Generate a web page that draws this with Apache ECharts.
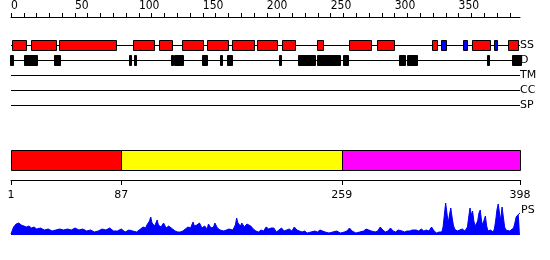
<!DOCTYPE html>
<html>
<head>
<meta charset="utf-8">
<script src="https://cdn.jsdelivr.net/npm/echarts@6/dist/echarts.min.js"></script>
<style>html,body{margin:0;padding:0;background:#fff}#c{width:550px;height:260px}</style>
</head>
<body>
<div id="c"></div>
<script>
// ---- data ----
const seqLength = 398;
const topTickLabels = [0, 50, 100, 150, 200, 250, 300, 350];
const trackNames = ['SS', 'D', 'TM', 'CC', 'SP'];
// secondary structure: [start, end, type] H = helix, E = strand
const ssSegments = [
  [2,12.5,'H'],[16.6,36,'H'],[38.7,82.7,'H'],[96.4,112.8,'H'],[116.7,126.4,'H'],
  [134.2,150.5,'H'],[153.7,170,'H'],[173.2,190.5,'H'],[193.1,208.3,'H'],[212.2,222.5,'H'],
  [239.9,244.6,'H'],[264.9,281.6,'H'],[286.7,299.8,'H'],[329.6,333.1,'H'],[336.6,340.1,'E'],
  [353.8,356.5,'E'],[360.4,374.6,'H'],[378,379.9,'E'],[388.9,396.2,'H']
];
// disorder segments: [start, end]
const disorderSegments = [
  [0.5,2.3],[11.1,21],[34.8,39.2],[93,94.8],[96.6,98.5],[125.8,127.5],[128.5,134.9],
  [150.2,153.7],[164,165.4],[169.7,173.2],[210,211.4],[225,238],[239.5,257.9],
  [259.7,263.6],[303.7,308.5],[310,317.5],[372,374],[392,398.6]
];
const domainStarts = [1, 87, 259];
const domainEnds = [87, 259, 398];
const domainTickLabels = [1, 87, 259, 398];
const psPos = [1,3,5,7,9,11,13,15,17,19,21,24,27,30,33,36,39,42,45,48,51,54,57,60,63,66,69,72,75,78,81,84,87,90,93,96,99,102,104,106,107,109,110,111,113,115,116,118,120,122,124,125,127,129,131,133,135,137,139,141,143,144,146,148,150,152,154,155,157,159,160,162,164,165,167,169,171,172,174,176,177,178,180,181,183,185,186,188,190,192,194,196,198,200,202,204,206,208,210,212,214,216,218,220,222,224,226,228,230,232,235,238,240,242,244,246,249,252,255,258,261,263,265,267,270,273,276,278,280,282,283,285,287,289,291,293,295,297,299,301,303,304,306,308,310,312,314,317,319,321,323,325,327,329,331,333,335,337,338,339,340,341,342,343,344,345,346,347,348,349,351,353,355,356,357,358,359,360,361,362,363,364,365,366,367,368,369,370,371,372,373,375,377,378,379,380,381,382,383,384,385,386,387,388,390,391,393,394,395,396,397,398];
const psVal = [1,8,11,12,10,9,8,9,7,8,6,7,5,6,4,5,6,5,6,5,7,5,6,4,5,3,4,6,5,7,4,4,6,3,5,4,3,6,8,7,10,14,18,12,9,15,10,8,12,7,9,10,6,4,3,3,4,6,8,7,13,9,10,12,7,9,6,11,7,8,12,7,5,6,4,5,6,7,5,10,17,12,9,12,8,11,9,9,6,4,3,5,4,8,6,7,7,3,5,7,4,5,6,4,8,5,4,3,4,2,3,4,3,5,4,3,2,3,4,2,3,4,7,4,2,3,4,6,5,4,5,3,4,8,5,3,4,7,4,3,5,6,4,3,4,4,5,5,4,6,4,5,4,8,4,2,3,3,8,20,32,22,12,20,27,18,10,6,8,4,5,6,4,3,8,18,27,20,24,14,9,8,14,22,25,14,10,15,19,9,4,5,3,6,14,25,31,22,15,28,18,8,5,6,4,6,7,12,18,20,21,22];

// ---- chart ----
const chart = echarts.init(document.getElementById('c'), null, {renderer: 'canvas'});
const minorTicks = [];
for (let v = 0; v < seqLength; v += 10) minorTicks.push(v);
const domainColors = ['#ff0000', '#ffff00', '#ff00ff'];
const FONT = 'DejaVu Sans';
const NARROW = '"Liberation Sans Narrow", "DejaVu Sans Condensed", "Liberation Sans", sans-serif';
const ssTrack = trackNames.indexOf('SS');
const dTrack = trackNames.indexOf('D');

function boxRender(params, api) {
  const s = api.coord([api.value(0), api.value(2)]);
  const e = api.coord([api.value(1), api.value(2)]);
  const x0 = Math.round(s[0]) + 0.5, x1 = Math.round(e[0]) + 0.5;
  const y0 = Math.round(s[1]) - 5.5;
  return {type: 'rect', shape: {x: x0, y: y0, width: Math.max(1, x1 - x0), height: 10},
    style: {fill: api.value(3) === 1 ? '#000' : (api.value(3) === 2 ? '#0000ff' : '#ff0000'), stroke: '#000', lineWidth: 1}};
}

chart.setOption({
  animation: false,
  backgroundColor: '#fff',
  grid: [
    {left: 11, right: 30, top: 16, height: 1},
    {left: 11, right: 30, top: 38, height: 75},
    {left: 11, right: 30, top: 150, height: 30},
    {left: 11, right: 30, top: 203, height: 32}
  ],
  xAxis: [
    {gridIndex: 0, type: 'value', min: 0, max: seqLength, interval: 10, position: 'top',
      axisLine: {show: true, lineStyle: {color: '#000', width: 1}},
      axisTick: {show: true, length: 4, customValues: minorTicks, lineStyle: {color: '#000'}},
      axisLabel: {customValues: topTickLabels, align: 'left', margin: 4, fontSize: 12, fontFamily: NARROW, color: '#000'},
      splitLine: {show: false}},
    {gridIndex: 1, type: 'value', min: 1, max: seqLength, show: false},
    {gridIndex: 2, type: 'value', min: 1, max: seqLength, position: 'bottom',
      axisLine: {show: true, lineStyle: {color: '#000', width: 1}},
      axisTick: {show: true, length: 5, customValues: domainTickLabels, lineStyle: {color: '#000'}},
      axisLabel: {customValues: domainTickLabels, margin: 10, fontSize: 11, fontFamily: FONT, color: '#000'},
      splitLine: {show: false}},
    {gridIndex: 3, type: 'value', min: 1, max: seqLength, show: false}
  ],
  yAxis: [
    {gridIndex: 0, type: 'value', show: false},
    {gridIndex: 1, type: 'category', data: trackNames, inverse: true, position: 'right',
      axisLine: {show: false}, axisTick: {show: false}, splitLine: {show: false},
      axisLabel: {margin: 0, fontSize: 11, fontFamily: FONT, color: '#000', align: 'left'}},
    {gridIndex: 2, type: 'value', min: 0, max: 3, show: false},
    {gridIndex: 3, type: 'value', min: 0, max: 32, show: false}
  ],
  graphic: [{type: 'text', left: 521, top: 205, style: {text: 'PS', font: '11px "DejaVu Sans"', fill: '#000'}}],
  series: [
    {type: 'custom', xAxisIndex: 1, yAxisIndex: 1, z: 1,
      data: trackNames.map((n, i) => [1, seqLength, i]),
      encode: {x: [0, 1], y: 2},
      renderItem: function (params, api) {
        const s = api.coord([api.value(0), api.value(2)]);
        const e = api.coord([api.value(1), api.value(2)]);
        const y = Math.round(s[1]) - 0.5;
        return {type: 'line', shape: {x1: Math.round(s[0]), y1: y, x2: Math.round(e[0]), y2: y},
          style: {stroke: '#000', lineWidth: 1}};
      }},
    {type: 'custom', xAxisIndex: 1, yAxisIndex: 1, z: 2,
      data: ssSegments.map(d => [d[0], d[1], ssTrack, d[2] === 'E' ? 2 : 0]),
      encode: {x: [0, 1], y: 2},
      renderItem: boxRender},
    {type: 'custom', xAxisIndex: 1, yAxisIndex: 1, z: 2,
      data: disorderSegments.map(d => [d[0], d[1], dTrack, 1]),
      encode: {x: [0, 1], y: 2},
      renderItem: boxRender},
    {type: 'custom', xAxisIndex: 2, yAxisIndex: 2, z: 2,
      data: domainStarts.map((s, i) => [s, domainEnds[i], i]),
      encode: {x: [0, 1]},
      renderItem: function (params, api) {
        const a = api.coord([api.value(0), 3]);
        const b = api.coord([api.value(1), 1]);
        const x0 = Math.round(a[0]) + 0.5, x1 = Math.round(b[0]) + 0.5;
        const y0 = Math.round(a[1]) + 0.5, y1 = Math.round(b[1]) + 0.5;
        return {type: 'rect', shape: {x: x0, y: y0, width: x1 - x0, height: y1 - y0},
          style: {fill: domainColors[api.value(2)], stroke: '#000', lineWidth: 1}};
      }},
    {type: 'line', xAxisIndex: 3, yAxisIndex: 3, showSymbol: false, symbol: 'none',
      data: psPos.map((p, i) => [p, psVal[i]]),
      lineStyle: {color: '#0000ff', width: 1},
      areaStyle: {color: '#0000ff', opacity: 1}}
  ]
});
</script>
</body>
</html>
